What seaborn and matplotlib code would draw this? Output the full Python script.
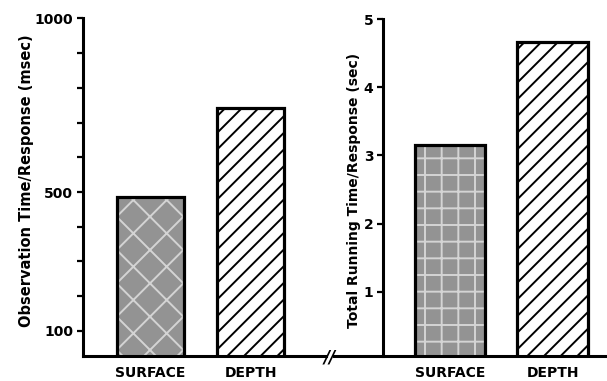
import matplotlib
matplotlib.use("Agg")
import matplotlib.pyplot as plt
import seaborn as sns
from matplotlib.ticker import MultipleLocator, FixedLocator

conditions = ["SURFACE", "DEPTH"]
obs_time_msec = [486, 741]
run_time_sec = [3.15, 4.67]
left_ticks = [100, 500, 1000]
right_ticks = [1, 2, 3, 4, 5]

sns.set_style("ticks")
plt.rcParams["font.family"] = ["DejaVu Sans"]
plt.rcParams["font.weight"] = "bold"
plt.rcParams["hatch.linewidth"] = 1.4
for key in ("text.color", "axes.labelcolor", "xtick.color", "ytick.color",
            "axes.edgecolor"):
    plt.rcParams[key] = "black"

W, H = 607, 381
fig = plt.figure(figsize=(W / 100, H / 100), dpi=100)
fig.patch.set_facecolor("white")


def rect(x0, x1, y_top, y_bot):
    return [x0 / W, 1 - y_bot / H, (x1 - x0) / W, (y_bot - y_top) / H]


ax1 = fig.add_axes(rect(83, 326, 18.3, 356))
ax2 = fig.add_axes(rect(334, 607, 19, 356))


def draw_bars(ax, values, width, texture):
    # textured / hatched fill first, then black outlines on top
    sns.barplot(x=conditions, y=values, ax=ax, width=width, color="white",
                linewidth=0, zorder=2)
    surf, depth = ax.patches[0], ax.patches[1]
    surf.set_facecolor("#939393")
    surf.set_edgecolor("#d4d4d4")
    surf.set_hatch(texture)
    surf.set_linewidth(0)
    depth.set_facecolor("white")
    depth.set_edgecolor("black")
    depth.set_hatch("//")
    depth.set_linewidth(0)
    sns.barplot(x=conditions, y=values, ax=ax, width=width, color="black",
                fill=False, linewidth=2.3, zorder=3)


draw_bars(ax1, obs_time_msec, 0.67, "x")
draw_bars(ax2, run_time_sec, 0.69, "+")

for ax in (ax1, ax2):
    ax.set_xlabel("")
    sns.despine(ax=ax)
    ax.spines["left"].set_linewidth(2.2)
    ax.spines["bottom"].set_linewidth(2.2)
    ax.tick_params(axis="x", length=0, pad=7, labelsize=10)
    ax.tick_params(axis="y", which="both", width=1.6, labelsize=10, pad=3)
    ax.set_facecolor("white")

# left panel: observation time
ax1.set_xlim(-0.675, 1.755)
ax1.set_ylim(28, 1000)
ax1.yaxis.set_major_locator(FixedLocator(left_ticks))
ax1.yaxis.set_minor_locator(MultipleLocator(100))
ax1.tick_params(axis="y", which="both", length=4)
ax1.set_ylabel("Observation Time/Response (msec)", fontsize=10.5,
               fontweight="bold")
ax1.yaxis.set_label_coords(-0.2, 0.52)

# right panel: total running time
ax2.set_xlim(-1.13, 1.53)
ax2.spines["left"].set_position(("axes", 0.1795))
ax2.set_ylim(0.06, 5)
ax2.yaxis.set_major_locator(FixedLocator(right_ticks))
ax2.tick_params(axis="y", length=4)
ax2.set_ylabel("Total Running Time/Response (sec)", fontsize=10,
               fontweight="bold")
ax2.yaxis.set_label_coords(0.1, 0.49)

# axis break mark between the panels
fig.text(330 / W, 1 - 357 / H, "//", ha="center", va="center",
         fontsize=12, fontweight="bold", style="italic")

fig.savefig("out.png", dpi=100, facecolor="white")
